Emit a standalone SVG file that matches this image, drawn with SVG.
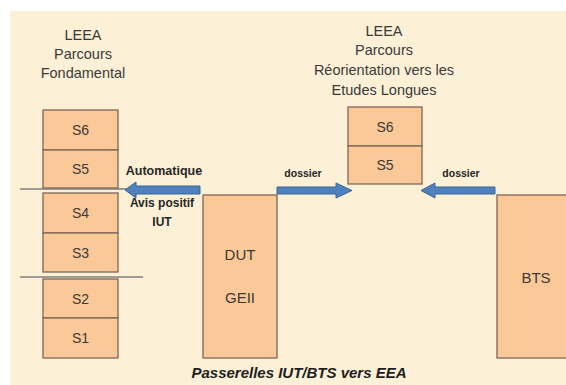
<svg xmlns="http://www.w3.org/2000/svg" width="566" height="385" viewBox="0 0 566 385">
<defs>
<style>
.bg{fill:#fcf0d7}
.box{fill:#fbc897;stroke:#7e6656;stroke-width:1.3}
.sep{stroke:#7f7f7f;stroke-width:1.3;fill:none}
.arr{fill:#4f81bd;stroke:#3a6595;stroke-width:1}
.t{font-family:"Liberation Sans",Arial,sans-serif;fill:#3a3a3a;text-anchor:middle}
.h{font-size:14.5px}
.s{font-size:14px}
.big{font-size:15px}
.b{font-weight:bold;fill:#262626}
.cap{font-family:"Liberation Sans",Arial,sans-serif;font-weight:bold;font-style:italic;font-size:15px;text-anchor:middle;fill:#1e1e1e}
</style>
</defs>
<rect x="0" y="0" width="566" height="385" fill="#ffffff"/>
<rect class="bg" x="10" y="11" width="556" height="374"/>

<g id="header-left">
<text class="t h" x="83" y="40">LEEA</text>
<text class="t h" x="83" y="59">Parcours</text>
<text class="t h" x="83" y="78">Fondamental</text>
</g>
<g id="header-right">
<text class="t h" x="384" y="36">LEEA</text>
<text class="t h" x="384" y="55">Parcours</text>
<text class="t h" x="384" y="75">Réorientation vers les</text>
<text class="t h" x="384" y="95">Etudes Longues</text>
</g>

<g id="connectors">
<line class="sep" x1="20" y1="189" x2="200" y2="189"/>
<line class="sep" x1="20" y1="277" x2="143" y2="277"/>
<polygon class="arr" points="200,186 136,186 136,182 125,190 136,198 136,194 200,194"/>
<polygon class="arr" points="277,187 336,187 336,183 352,190.5 336,198 336,194 277,194"/>
<polygon class="arr" points="495,187 435,187 435,183 421,190.5 435,198 435,194 495,194"/>
<text class="t b" x="164" y="175" style="font-size:12.5px">Automatique</text>
<text class="t b" x="162" y="207" style="font-size:12px">Avis positif</text>
<text class="t b" x="162" y="226" style="font-size:12px">IUT</text>
<text class="t b" x="303" y="177" style="font-size:10.5px">dossier</text>
<text class="t b" x="461" y="177" style="font-size:10.5px">dossier</text>
</g>

<g id="left-S6"><rect class="box" x="43" y="110" width="75" height="40"/><text class="t s" x="80.5" y="135">S6</text></g>
<g id="left-S5"><rect class="box" x="43" y="150" width="75" height="38"/><text class="t s" x="80.5" y="174">S5</text></g>
<g id="left-S4"><rect class="box" x="43" y="193" width="75" height="40"/><text class="t s" x="80.5" y="218">S4</text></g>
<g id="left-S3"><rect class="box" x="43" y="233" width="75" height="39"/><text class="t s" x="80.5" y="258">S3</text></g>
<g id="left-S2"><rect class="box" x="43" y="279" width="75" height="39"/><text class="t s" x="80.5" y="304">S2</text></g>
<g id="left-S1"><rect class="box" x="43" y="318" width="75" height="40"/><text class="t s" x="80.5" y="343">S1</text></g>

<g id="dut"><rect class="box" x="203" y="195" width="74" height="163"/>
<text class="t big" x="240" y="260">DUT</text>
<text class="t big" x="240" y="303">GEII</text></g>

<g id="mid-S6"><rect class="box" x="348" y="107" width="74" height="39"/><text class="t s" x="385" y="132">S6</text></g>
<g id="mid-S5"><rect class="box" x="348" y="146" width="74" height="38"/><text class="t s" x="385" y="170">S5</text></g>

<g id="bts"><rect class="box" x="497" y="195" width="75" height="163"/>
<text class="t big" x="536" y="283">BTS</text></g>

<text class="cap" x="299" y="378">Passerelles IUT/BTS vers EEA</text>
</svg>
